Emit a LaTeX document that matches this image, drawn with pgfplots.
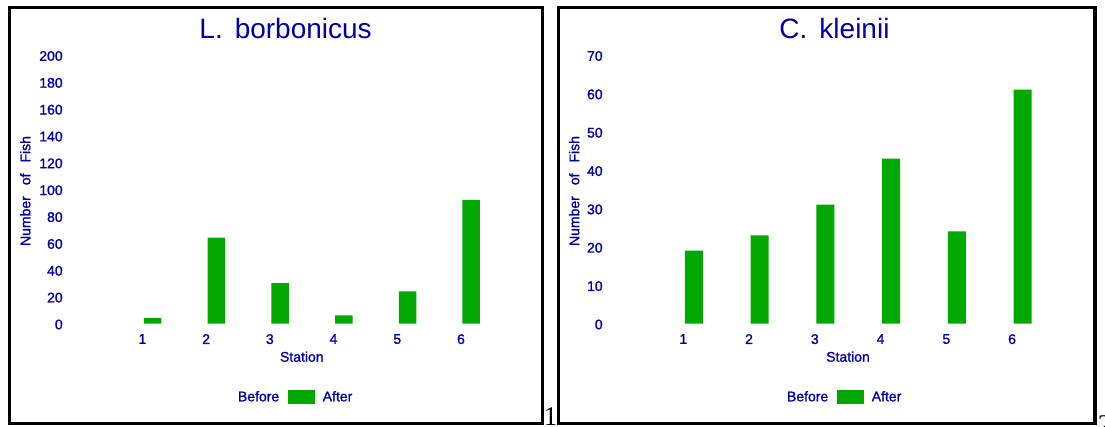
\documentclass[border=0pt]{standalone}
\usepackage{pgfplots}
\pgfplotsset{compat=1.18}
\usepackage{fontspec}
\setmainfont{Liberation Sans}
\newfontfamily\embf[FakeBold=1.2]{Liberation Sans}
\newfontfamily\serifpg{Liberation Serif}
\definecolor{tblue}{RGB}{0,0,170}
\definecolor{bgreen}{RGB}{0,168,0}
\newcommand{\fs}{\embf\fontsize{14}{16}\selectfont}

\pgfplotsset{
  panel/.style={
    scale only axis, height=268.5pt, ymin=0, xmin=0, xmax=7,
    enlargelimits=false, ybar=0pt, clip=false,
    axis line style={draw=none}, major tick length=0pt,
    xtick={1,2,3,4,5,6},
    scaled ticks=false,
    /pgf/number format/assume math mode=true,
    ticklabel style={font=\fs, text=tblue, inner sep=0pt},
    xticklabel style={anchor=north, yshift=-10.5pt, xshift=-1.5pt},
    yticklabel style={anchor=east, yshift=-1pt},
    legend columns=2,
    legend style={draw=none, fill=none, anchor=center, font=\fs, text=tblue,
      nodes={inner sep=0pt},
      /tikz/every odd column/.append style={column sep=7.5pt},
      /tikz/every even column/.append style={column sep=9pt}},
  },
  legbox/.style={legend image code/.code={\path[##1] (0pt,-6.85pt) rectangle (27pt,6.85pt);}},
}

\begin{document}
\begin{tikzpicture}
\useasboundingbox (0pt,0pt) rectangle (1105pt,426pt);
\draw[line width=3.3pt] (9.5pt,2.6pt) rectangle (542.5pt,418.5pt);
\draw[line width=3.3pt] (558.5pt,2.6pt) rectangle (1095pt,418.5pt);

% Left panel
\begin{axis}[panel, at={(80.18pt,102.5pt)}, anchor=south west, width=446pt,
  ymax=200, ytick={0,20,...,200},
  yticklabel style={xshift=-17.3pt},
  legend style={at={(axis description cs:0.4433,-0.2737)}}]
\addplot[fill=none, draw=none, bar width=17.5pt, bar shift=-8.75pt, legbox]
  coordinates {(1,0) (2,0) (3,0) (4,0) (5,0) (6,0)};
\addplot[fill=bgreen, draw=none, bar width=17.5pt, bar shift=8.75pt, legbox]
  coordinates {(1,4) (2,64) (3,30) (4,6) (5,24) (6,92)};
\legend{Before, After}
\end{axis}

% Right panel
\begin{axis}[panel, at={(619.04pt,102.5pt)}, anchor=south west, width=460.3pt,
  ymax=70, ytick={0,10,...,70},
  yticklabel style={xshift=-16.2pt},
  legend style={at={(axis description cs:0.4516,-0.2737)}}]
\addplot[fill=none, draw=none, bar width=18pt, bar shift=-9pt, legbox]
  coordinates {(1,0) (2,0) (3,0) (4,0) (5,0) (6,0)};
\addplot[fill=bgreen, draw=none, bar width=18pt, bar shift=9pt, legbox]
  coordinates {(1,19) (2,23) (3,31) (4,43) (5,24) (6,61)};
\legend{Before, After}
\end{axis}

% Titles and labels
\node[font=\fontsize{28}{32}\selectfont, text=tblue, anchor=base] at (285.6pt,387.7pt) {L.\hspace{12pt}borbonicus};
\node[font=\fontsize{28}{32}\selectfont, text=tblue, anchor=base] at (834.5pt,387.7pt) {C.\hspace{12pt}kleinii};
\node[font=\fs, text=tblue, rotate=90] at (25.3pt,235pt) {Number\hspace{11pt}of\hspace{11pt}Fish};
\node[font=\fs, text=tblue, rotate=90] at (574.2pt,235pt) {Number\hspace{11pt}of\hspace{11pt}Fish};
\node[font=\fs, text=tblue] at (301.8pt,69.3pt) {Station};
\node[font=\fs, text=tblue] at (848pt,69.3pt) {Station};

% Panel numbers
\node[font=\serifpg\fontsize{27}{30}\selectfont, anchor=base, inner sep=0pt] at (550.5pt,1pt) {1};
\node[font=\serifpg\fontsize{27}{30}\selectfont, anchor=base, inner sep=0pt] at (1104.5pt,-7.3pt) {2};
\end{tikzpicture}
\end{document}
